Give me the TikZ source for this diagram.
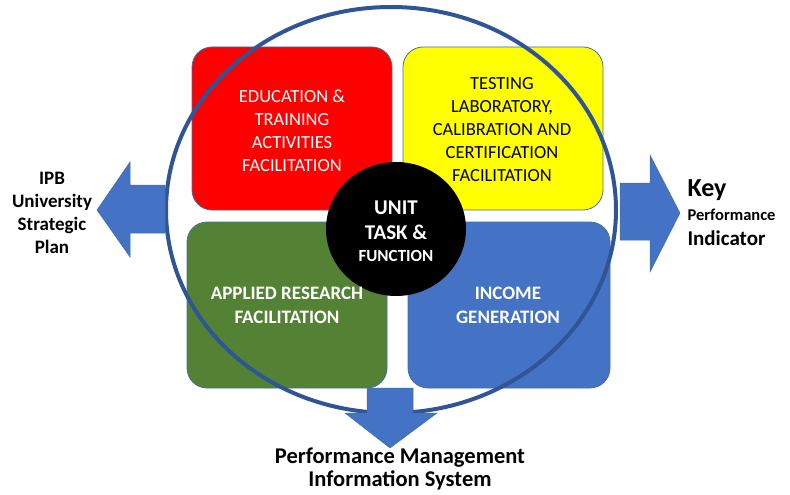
\documentclass[tikz,border=0pt]{standalone}
\usepackage{fontspec}
\setmainfont{Carlito}
\definecolor{cred}{HTML}{FF0000}
\definecolor{cyellow}{HTML}{FFFF00}
\definecolor{cgreen}{HTML}{548235}
\definecolor{cblue}{HTML}{4472C4}
\definecolor{ring}{HTML}{2F5597}
\definecolor{boxline}{HTML}{41719C}
\begin{document}
\begin{tikzpicture}[x=1pt,y=-1pt,
  quad/.style={draw=boxline,line width=0.8pt,rounded corners=20pt},
  qtext/.style={align=center,font=\fontsize{18.5}{23}\selectfont},
  btext/.style={align=center,font=\bfseries\fontsize{19}{24}\selectfont,text=white},
  bigarrow/.style={fill=cblue,draw=boxline,line width=0.5pt},
  lbl/.style={font=\bfseries,text=black}]
\useasboundingbox (0,0) rectangle (790,495);
% quadrants
\draw[quad,fill=cred] (192,47) rectangle (392,210);
\draw[quad,fill=cyellow] (403,47) rectangle (603,210);
\draw[quad,fill=cgreen] (187,222) rectangle (387,388);
\draw[quad,fill=cblue] (408,222) rectangle (610,388);
% ring
\draw[ring,line width=4pt] (391,210) ellipse [x radius=225,y radius=203];
% arrows
\path[bigarrow] (165,185) -- (130,185) -- (130,162) -- (97,210) -- (130,257) -- (130,233) -- (165,233) -- cycle;
\path[bigarrow] (620,183) -- (650,183) -- (650,155) -- (680,213) -- (650,272) -- (650,240) -- (620,240) -- cycle;
\path[bigarrow] (367,388) -- (413,388) -- (413,413) -- (437,413) -- (390,448) -- (345,413) -- (367,413) -- cycle;
% centre
\fill[black] (396,229) ellipse [x radius=70,y radius=67];
\node[align=center,text=white,font=\bfseries\fontsize{21}{25}\selectfont] (core) at (396,231)
  {UNIT\\TASK \&\\[-3pt]{\fontsize{17}{20}\selectfont FUNCTION}};
% quadrant texts
\node[qtext,text=white] (edu) at (292,131) {EDUCATION \&\\TRAINING\\ACTIVITIES\\FACILITATION};
\node[qtext,text=black] (test) at (502,130) {TESTING\\LABORATORY,\\CALIBRATION AND\\CERTIFICATION\\FACILITATION};
\node[btext] (res) at (287,305) {APPLIED RESEARCH\\FACILITATION};
\node[btext] (inc) at (508,305) {INCOME\\GENERATION};
% outer labels
\node[lbl,align=center,font=\bfseries\fontsize{19}{23}\selectfont] (ipb) at (52,213) {IPB\\University\\Strategic\\Plan};
\node[lbl,anchor=west,font=\bfseries\fontsize{26}{26}\selectfont] (key) at (684,190) {Key};
\node[lbl,anchor=west,font=\bfseries\fontsize{16.5}{16}\selectfont] (perf) at (684,215) {Performance};
\node[lbl,anchor=west,font=\bfseries\fontsize{21}{21}\selectfont] (ind) at (684,238) {Indicator};
\node[lbl,align=center,font=\bfseries\fontsize{22.5}{23}\selectfont] (pmis) at (400,469) {Performance Management\\Information System};
\end{tikzpicture}
\end{document}
